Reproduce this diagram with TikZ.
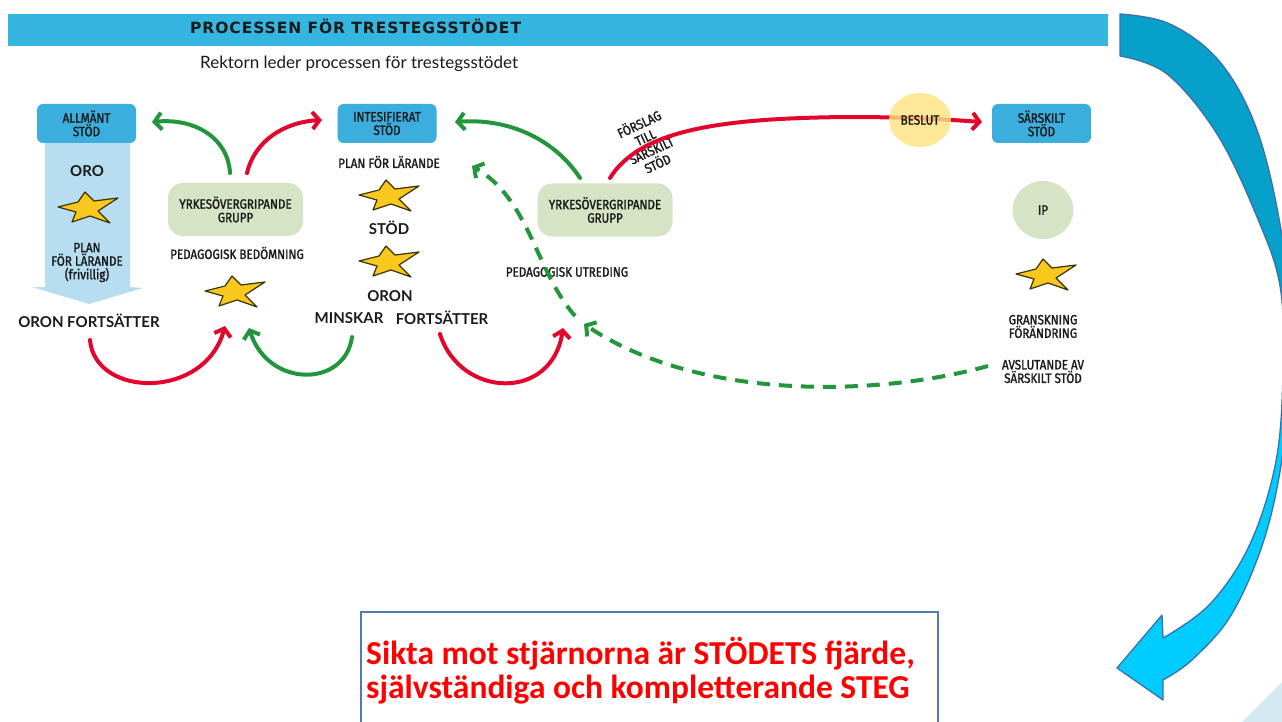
\documentclass[tikz,border=0pt]{standalone}
\usepackage{fontspec}
\setmainfont{Lato}
\newfontfamily\hand[FakeStretch=0.86,FakeBold=1.6]{Fira Sans}
\newfontfamily\calib{Carlito}
\newfontfamily\titlefont[LetterSpace=6]{DejaVu Sans}
\usetikzlibrary{arrows.meta,shapes.geometric}
\definecolor{hdr}{HTML}{35B6E0}
\definecolor{boxblue}{HTML}{3CAEDD}
\definecolor{grnbox}{HTML}{D6E4C6}
\definecolor{lblue}{HTML}{B6DDF0}
\definecolor{arred}{HTML}{E2062C}
\definecolor{argrn}{HTML}{22963C}
\definecolor{starY}{HTML}{F8C81C}
\definecolor{starE}{HTML}{3A3000}
\definecolor{beslutY}{HTML}{FDE27E}
\definecolor{arrdark}{HTML}{06A0CB}
\definecolor{arrlight}{HTML}{00CCFF}
\definecolor{arredge}{HTML}{3F6FA8}
\definecolor{tbedge}{HTML}{4F7BAF}
\definecolor{tri}{HTML}{D3EAF2}
\definecolor{msgred}{HTML}{FF0000}
\definecolor{ink}{HTML}{1A1A1A}
\tikzset{
  handfont/.style={font=\hand\fontsize{13.5}{13.5}\selectfont},
  bluebox/.style={fill=boxblue, rounded corners=6pt, minimum width=99pt, minimum height=39pt, inner sep=0pt, align=center, text=ink, handfont},
  greenbox/.style={fill=grnbox, rounded corners=15pt, minimum width=135pt, minimum height=53pt, inner sep=0pt, align=center, text=ink, handfont},
  lbl/.style={handfont, align=center, inner sep=0pt, text=ink},
  blbl/.style={font=\bfseries\fontsize{15}{16}\selectfont, inner sep=0pt, text=ink},
  rarr/.style={draw=arred, line width=4pt, line cap=round, -{Straight Barb[length=7pt,width=17pt]}},
  garr/.style={draw=argrn, line width=4pt, line cap=round, -{Straight Barb[length=7pt,width=17pt]}},
  gdash/.style={draw=argrn, line width=4pt, dash pattern=on 13pt off 9pt, -{Straight Barb[length=7pt,width=17pt]}},
  pics/ystar/.style={code={
    \draw[fill=starY, draw=starE, line width=1.2pt, line join=round]
      (-30,-1)--(-10,-6)--(-3,-16)--(6,-7)--(30,-10)--(10,3)--(22,15)--(2,8)--(-16,14)--(-12,4)--cycle;}}
}
\begin{document}
\begin{tikzpicture}[x=1pt,y=-1pt]
\useasboundingbox (0,0) rectangle (1282,722);
% header
\fill[hdr] (8,14) rectangle (1108,46);
\node[anchor=base west, font=\titlefont\bfseries\fontsize{15.5}{16}\selectfont, text=ink, inner sep=0pt] (title) at (190,34) {PROCESSEN FÖR TRESTEGSSTÖDET};
\node[anchor=base west, font=\fontsize{17}{17}\selectfont, text=ink, inner sep=0pt] (sub) at (200,69) {Rektorn leder processen för trestegsstödet};
% big right arrow
\path[save path=\bigarr] plot[smooth, tension=0.6] coordinates {(1120,14) (1170,24) (1220,62) (1257,130) (1281,230) (1291,330) (1286,430) (1267,530) (1233,612) (1193,659) (1163,680)}
  -- (1163,700) -- (1117,668) -- (1162,615) -- (1163,638)
  -- plot[smooth, tension=0.6] coordinates {(1163,638) (1210,604) (1250,544) (1276,461) (1283,370) (1280,286) (1257,217) (1217,134) (1167,74) (1120,56)} -- cycle;
\fill[arrlight, use path=\bigarr];
\begin{scope}
\clip (1100,0) rectangle (1300,405);
\fill[arrdark, use path=\bigarr];
\end{scope}
\draw[arredge, line width=1.3pt, line join=round, use path=\bigarr];
\fill[tri] (1242,722) -- (1282,682) -- (1282,722) -- cycle;
% column 1
\fill[lblue] (45,140) -- (130,140) -- (130,287) -- (143,288) -- (89,304) -- (32,287) -- (45,287) -- cycle;
\node[bluebox] (allm) at (86.5,123.5) {ALLMÄNT\\STÖD};
\node[blbl] (oro) at (87,171) {ORO};
\pic (s1) at (88,208) {ystar};
\node[lbl] (plan1) at (87,262.5) {PLAN\\FÖR LÄRANDE\\(frivillig)};
\node[blbl] (oronf) at (89,321) {ORON FORTSÄTTER};
% column 2
\node[greenbox] (g1) at (235.5,209.5) {YRKESÖVERGRIPANDE\\GRUPP};
\node[lbl] (pb) at (237,253) {PEDAGOGISK BEDÖMNING};
\pic (s2) at (235,292) {ystar};
% column 3
\node[bluebox] (intens) at (387,123.5) {INTESIFIERAT\\STÖD};
\node[lbl] (plan2) at (389,162) {PLAN FÖR LÄRANDE};
\pic (s3) at (389,196) {ystar};
\node[blbl] (stod) at (389,228) {STÖD};
\pic (s4) at (389,262) {ystar};
\node[blbl] (oron2) at (390,296) {ORON};
\node[blbl] (minskar) at (349,318) {MINSKAR};
\node[blbl] (forts) at (442,318) {FORTSÄTTER};
% column 4
\node[greenbox] (g2) at (605,210) {YRKESÖVERGRIPANDE\\GRUPP};
\node[lbl] (pu) at (567,272) {PEDAGOGISK UTREDING};
\node[lbl, rotate=25, font=\hand\fontsize{13.5}{14.5}\selectfont] (forslag) at (648,143) {FÖRSLAG\\TILL\\SÄRSKILT\\STÖD};
% column 5
\node[bluebox] (sars) at (1041.5,123.5) {SÄRSKILT\\STÖD};
\node[ellipse, fill=grnbox, minimum width=61pt, minimum height=58pt, inner sep=0pt, handfont, text=ink] (ip) at (1043,210) {IP};
\pic (s5) at (1046,275) {ystar};
\node[lbl] (gran) at (1043,326.5) {GRANSKNING\\FÖRÄNDRING};
\node[lbl] (avsl) at (1043,371.5) {AVSLUTANDE AV\\SÄRSKILT STÖD};
% connector end points
\coordinate (a1s) at (230,173);  \coordinate (a1e) at (152,122);
\coordinate (a2s) at (247,173);  \coordinate (a2e) at (322,120);
\coordinate (a3s) at (90,340);   \coordinate (a3e) at (225,326);
\coordinate (a4s) at (352,337);  \coordinate (a4e) at (249,328);
\coordinate (a5s) at (440,334);  \coordinate (a5e) at (563,328);
\coordinate (a6s) at (580,178);  \coordinate (a6e) at (455,122);
\coordinate (a7s) at (610,178);  \coordinate (a7e) at (982,122);
\coordinate (dbs) at (988,366);  \coordinate (dbe) at (584,324);
\coordinate (das) at (575,316);  \coordinate (dae) at (472,166);
% connectors
\draw[garr] (a1s) .. controls (228,138) and (195,118) .. (a1e);
\draw[rarr] (a2s) .. controls (255,140) and (285,122) .. (a2e);
\draw[rarr] (a3s) .. controls (95,398) and (205,400) .. (a3e);
\draw[garr] (a4s) .. controls (345,388) and (268,388) .. (a4e);
\draw[rarr] (a5s) .. controls (460,398) and (552,402) .. (a5e);
\draw[garr] (a6s) .. controls (555,140) and (510,118) .. (a6e);
\draw[rarr] (a7s) .. controls (640,130) and (720,118) .. (850,117) .. controls (900,117) and (940,119) .. (a7e);
\draw[gdash] (dbs) .. controls (880,396) and (700,402) .. (dbe);
\draw[gdash] (das) .. controls (535,270) and (530,200) .. (dae);
% decision
\node[ellipse, fill=beslutY, fill opacity=0.8, text opacity=1, minimum width=62pt, minimum height=54pt, inner sep=0pt, handfont, text=ink] (beslut) at (920,120) {BESLUT};
% message box
\draw[tbedge, line width=2pt] (361,740) -- (361,612) -- (938,612) -- (938,740);
\node[anchor=base west, inner sep=0pt, font=\calib\bfseries\fontsize{33.5}{34}\selectfont, text=msgred] (m1) at (366,664) {Sikta mot stjärnorna är STÖDETS fjärde,};
\node[anchor=base west, inner sep=0pt, font=\calib\bfseries\fontsize{33.5}{34}\selectfont, text=msgred] (m2) at (366,698) {självständiga och kompletterande STEG};
\end{tikzpicture}
\end{document}
